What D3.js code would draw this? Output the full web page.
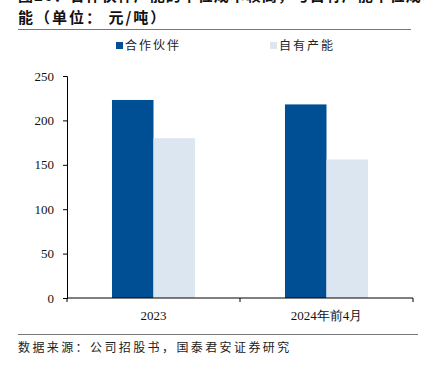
<!DOCTYPE html>
<html>
<head>
<meta charset="utf-8">
<script src="https://cdn.jsdelivr.net/npm/d3@7"></script>
<style>
  body { margin: 0; background: #fff; }
  svg { display: block; }
</style>
</head>
<body>
<div id="chart"></div>
<script>
const categories = ['2023', '2024年前4月'];
const seriesNames = ['合作伙伴', '自有产能'];
const partner = [223, 218];
const own = [180, 156];
const yTicks = [0, 50, 100, 150, 200, 250];
const colors = ['#004f94', '#dce6f0'];

const W = 424, H = 365;
const svg = d3.select('#chart').append('svg').attr('width', W).attr('height', H);

const cjk = '"Noto Sans CJK SC", sans-serif';
const serif = '"Liberation Serif", "DejaVu Serif", serif';

// title (first line is clipped at top edge)
svg.append('text').attr('x', 18).attr('y', 1)
  .attr('font-family', cjk).attr('font-weight', 'bold').attr('font-size', 15).attr('fill', '#111')
  .attr('letter-spacing', 1)
  .text('图26：合作伙伴产能的单位成本较高，与自有产能单位成本差');
svg.append('text').attr('x', 18).attr('y', 23)
  .attr('font-family', cjk).attr('font-weight', 'bold').attr('font-size', 15).attr('fill', '#111')
  .attr('letter-spacing', 2)
  .text('能（单位： 元/吨）');
svg.append('line').attr('x1', 18).attr('x2', 411).attr('y1', 29.5).attr('y2', 29.5)
  .attr('stroke', '#777').attr('stroke-width', 1.2);

// legend
const legX = [116, 270];
seriesNames.forEach((n, i) => {
  svg.append('rect').attr('x', legX[i]).attr('y', 42).attr('width', 7).attr('height', 7).attr('fill', colors[i]);
  svg.append('text').attr('x', legX[i] + 9).attr('y', 50)
    .attr('font-family', cjk).attr('font-size', 12).attr('fill', '#222')
    .attr('letter-spacing', 2).text(n);
});

const margin = { left: 67, right: 11, top: 76, bottom: 67 };
const x = d3.scaleBand().domain(categories).range([margin.left, W - margin.right]).paddingInner(0.52).paddingOuter(0.26);
const y = d3.scaleLinear().domain([0, 250]).range([H - margin.bottom, margin.top]);
const x1 = d3.scaleBand().domain(seriesNames).range([0, x.bandwidth()]);

const data = categories.map((c, i) => ({ c, vals: [partner[i], own[i]] }));

const g = svg.append('g');
g.selectAll('g.grp').data(data).join('g').attr('class', 'grp')
  .attr('transform', d => `translate(${x(d.c)},0)`)
  .selectAll('rect').data(d => d.vals.map((v, j) => ({ v, j })))
  .join('rect')
  .attr('x', d => x1(seriesNames[d.j]))
  .attr('y', d => y(d.v))
  .attr('width', x1.bandwidth())
  .attr('height', d => y(0) - y(d.v))
  .attr('fill', d => colors[d.j]);

// y axis
const yAxis = svg.append('g').attr('transform', `translate(${margin.left},0)`)
  .call(d3.axisLeft(y).tickValues(yTicks).tickSize(4).tickPadding(9));
yAxis.select('.domain').attr('stroke', '#000');
yAxis.selectAll('text').attr('font-family', serif).attr('font-size', 13).attr('fill', '#111');

// x axis
const xAxis = svg.append('g').attr('transform', `translate(0,${y(0)})`)
  .call(d3.axisBottom(x).tickSize(0).tickPadding(13));
xAxis.select('.domain').attr('stroke', '#000').attr('d', `M${margin.left},0H${W - margin.right}`);
xAxis.selectAll('text').attr('font-family', serif).attr('font-size', 13).attr('fill', '#111');
const edges = [margin.left, (margin.left + W - margin.right) / 2, W - margin.right];
xAxis.selectAll('line.sep').data(edges).join('line').attr('class', 'sep')
  .attr('x1', d => d).attr('x2', d => d).attr('y1', 0).attr('y2', 4).attr('stroke', '#000');

// footer
svg.append('line').attr('x1', 18).attr('x2', 418).attr('y1', 334.5).attr('y2', 334.5)
  .attr('stroke', '#777').attr('stroke-width', 1.2);
svg.append('text').attr('x', 18).attr('y', 352)
  .attr('font-family', cjk).attr('font-size', 12).attr('fill', '#222')
  .attr('letter-spacing', 2.4)
  .text('数据来源：公司招股书，国泰君安证券研究');
</script>
</body>
</html>
